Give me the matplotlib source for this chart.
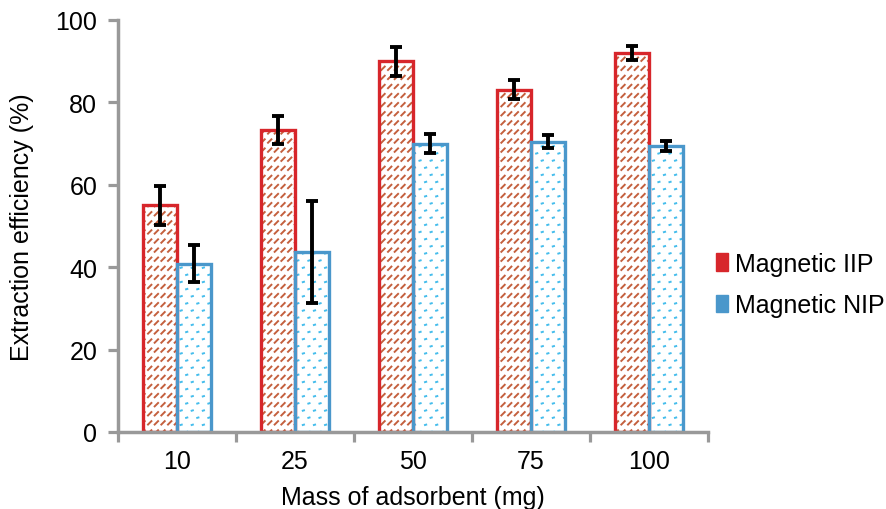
import matplotlib
matplotlib.use("Agg")
import matplotlib.pyplot as plt
import matplotlib.hatch as mhatch
from matplotlib.path import Path
from matplotlib.patches import Patch
import numpy as np
import warnings
warnings.filterwarnings("ignore")

plt.rcParams['font.family'] = ['Liberation Sans', 'DejaVu Sans']

categories = ["10", "25", "50", "75", "100"]
iip = [55.0, 73.3, 90.0, 83.0, 92.0]
iip_err = [4.7, 3.3, 3.5, 2.3, 1.7]
nip = [40.8, 43.7, 69.9, 70.4, 69.4]
nip_err = [4.5, 12.3, 2.3, 1.6, 1.1]


class ShortDashHatch(mhatch.HatchPatternBase):
    """Rows of short slanted dashes (texture only)."""
    def __init__(self, hatch, density):
        self.on = hatch.count('z') > 0
        self.ncol, self.nrow = 15, 11
        self.num_vertices = self.ncol * self.nrow * 2 if self.on else 0

    def set_vertices_and_codes(self, vertices, codes):
        if not self.on:
            return
        i = 0
        d = 0.034
        for r in range(self.nrow):
            for c in range(self.ncol):
                x0 = (c + 0.2) / self.ncol
                y0 = (r + 0.3) / self.nrow
                vertices[i] = (x0, y0)
                vertices[i + 1] = (x0 + d, y0 + d)
                codes[i] = Path.MOVETO
                codes[i + 1] = Path.LINETO
                i += 2


class SparseDotHatch(mhatch.HatchPatternBase):
    """Staggered sparse dots (texture only)."""
    def __init__(self, hatch, density):
        self.on = hatch.count(',') > 0
        self.ncol, self.nrow = 9, 14
        self.num_vertices = self.ncol * self.nrow * 2 if self.on else 0

    def set_vertices_and_codes(self, vertices, codes):
        if not self.on:
            return
        i = 0
        d = 0.012
        for r in range(self.nrow):
            off = 0.5 if r % 2 else 0.0
            for c in range(self.ncol):
                x0 = ((c + 0.25 + off) / self.ncol) % 1.0
                y0 = (r + 0.5) / self.nrow
                vertices[i] = (x0, y0)
                vertices[i + 1] = (x0 + d, y0 + d * 0.3)
                codes[i] = Path.MOVETO
                codes[i + 1] = Path.LINETO
                i += 2


mhatch._validate_hatch_pattern = lambda h: None
mhatch._hatch_types.append(ShortDashHatch)
mhatch._hatch_types.append(SparseDotHatch)
plt.rcParams['hatch.linewidth'] = 1.4

fig = plt.figure(figsize=(8.87, 5.10), dpi=100)
ax = fig.add_axes([0.133, 0.151, 0.665, 0.808])

x = np.arange(len(categories))
w = 0.29
red = "#d7262b"
blue = "#4a97cb"
fs = 18

# textured fills
ax.bar(x - w/2, iip, w, color="white", edgecolor="#c4603e", hatch="z", linewidth=0)
ax.bar(x + w/2, nip, w, color="white", edgecolor="#45bdec", hatch=",", linewidth=0)
# outlines
ax.bar(x - w/2, iip, w, fill=False, edgecolor=red, linewidth=2.4)
ax.bar(x + w/2, nip, w, fill=False, edgecolor=blue, linewidth=2.4)
# error bars
ax.errorbar(x - w/2, iip, yerr=iip_err, fmt="none", ecolor="black", elinewidth=2.8, capsize=4.3, capthick=2.8)
ax.errorbar(x + w/2, nip, yerr=nip_err, fmt="none", ecolor="black", elinewidth=2.8, capsize=4.3, capthick=2.8)

ax.set_xlim(-0.5, len(categories) - 0.5)
ax.set_ylim(0, 100)
ax.set_yticks([0, 20, 40, 60, 80, 100])
ax.set_xticks(x)
ax.set_xticklabels(categories)
ax.set_xticks(np.arange(-0.5, len(categories)), minor=True)
ax.tick_params(axis="x", which="major", length=0, pad=12, labelsize=fs)
ax.tick_params(axis="x", which="minor", length=7, width=2.3, color="#999999", direction="out")
ax.tick_params(axis="y", length=7, width=2.3, color="#999999", labelsize=fs, pad=8)

for s in ["top", "right"]:
    ax.spines[s].set_visible(False)
for s in ["left", "bottom"]:
    ax.spines[s].set_color("#999999")
    ax.spines[s].set_linewidth(2.5)

ax.set_ylabel("Extraction efficiency (%)", fontsize=fs, labelpad=15)
ax.set_xlabel("Mass of adsorbent (mg)", fontsize=fs, labelpad=9)

handles = [Patch(facecolor=red, edgecolor=red), Patch(facecolor=blue, edgecolor=blue)]
leg = fig.legend(handles, ["Magnetic IIP", "Magnetic NIP"], loc="center left",
                 bbox_to_anchor=(0.807, 0.44), frameon=False, fontsize=fs,
                 borderpad=0, borderaxespad=0,
                 handlelength=0.5, handleheight=0.7, handletextpad=0.25, labelspacing=0.7)

fig.savefig("out.png", dpi=100)
